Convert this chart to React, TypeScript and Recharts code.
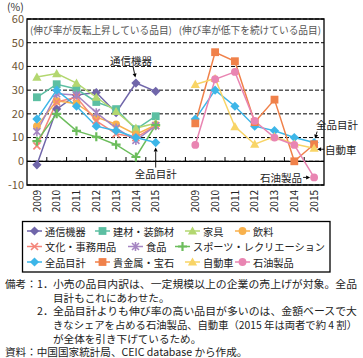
import React from 'react';
import {
  LineChart, Line, XAxis, YAxis, CartesianGrid,
  ReferenceArea, ReferenceLine, ReferenceDot,
} from 'recharts';

// ---------- data ----------
const years = ['2009', '2010', '2011', '2012', '2013', '2014', '2015'];

// left panel (伸び率が反転上昇している品目)
const tsuushinKiki = [-1.5, 22, 28, 29, 20.5, 33, 29.5];
const kenzai = [27, 32.5, 30.5, 25, 22, 13.5, 19];
const kagu = [35.5, 37, 33, 27, 21, 14, 16];
const inryou = [14.8, 25.5, 24.3, 18.6, 15.6, 11.3, 15.3];
const bunka = [6.5, 25, 27, 17, 11.6, 10, 15];
const shokuhin = [12.5, 28.5, 28, 20.5, 14, 8.8, 15];
const sports = [8.5, 20, 12.8, 10.3, 7, 1.8, 15.3];
// both panels
const zenhinmoku = [17.8, 30, 23.2, 14.8, 12.9, 10, 7.9];
// right panel (伸び率が低下を続けている品目)
const kikinzoku = [16, 46, 42.2, 16.5, 26, 0, 7.2];
const jidousha = [32.4, 34.9, 14.6, 7.2, 10.4, 7.3, 5.5];
const sekiyu = [6.9, 34.6, 37.7, 17, 10, 6.9, -6.8];

const yTicks = [-10, 0, 10, 20, 30, 40, 50, 60];

type Shape = 'diamond' | 'square' | 'triangle' | 'circle' | 'x' | 'star' | 'plus';
type Series = { key: string; name: string; color: string; shape: Shape; values: number[]; panel: 'L' | 'R' | 'B' };

const series: Series[] = [
  { key: 's1', name: '通信機器', color: '#7066AA', shape: 'diamond', values: tsuushinKiki, panel: 'L' },
  { key: 's2', name: '建材・装飾材', color: '#5CBFA2', shape: 'square', values: kenzai, panel: 'L' },
  { key: 's3', name: '家具', color: '#B3D770', shape: 'triangle', values: kagu, panel: 'L' },
  { key: 's4', name: '飲料', color: '#F8B14C', shape: 'circle', values: inryou, panel: 'L' },
  { key: 's5', name: '文化・事務用品', color: '#F4867A', shape: 'x', values: bunka, panel: 'L' },
  { key: 's6', name: '食品', color: '#A585C2', shape: 'star', values: shokuhin, panel: 'L' },
  { key: 's7', name: 'スポーツ・レクリエーション', color: '#6CBD5C', shape: 'plus', values: sports, panel: 'L' },
  { key: 's8', name: '全品目計', color: '#3DB6E8', shape: 'diamond', values: zenhinmoku, panel: 'B' },
  { key: 's9', name: '貴金属・宝石', color: '#F0814A', shape: 'square', values: kikinzoku, panel: 'R' },
  { key: 's10', name: '自動車', color: '#F8D466', shape: 'triangle', values: jidousha, panel: 'R' },
  { key: 's11', name: '石油製品', color: '#E985B2', shape: 'circle', values: sekiyu, panel: 'R' },
];

const data = Array.from({ length: 15 }, (_, i) => {
  const row: Record<string, number | null> = { idx: i };
  const li = i < 7 ? i : null;
  const ri = i >= 8 ? i - 8 : null;
  series.forEach((s) => {
    let v: number | null = null;
    if ((s.panel === 'L' || s.panel === 'B') && li !== null) v = s.values[li];
    if ((s.panel === 'R' || s.panel === 'B') && ri !== null) v = s.values[ri];
    row[s.key] = v;
  });
  return row;
});

const xTicks = [0, 1, 2, 3, 4, 5, 6, 8, 9, 10, 11, 12, 13, 14];
const boundaries = Array.from({ length: 14 }, (_, i) => i + 0.5);

const FONT = '"Noto Sans CJK JP", "Noto Sans", sans-serif';

// ---------- marker ----------
function Marker({ shape, color, cx, cy }: { shape: Shape; color: string; cx: number; cy: number }) {
  switch (shape) {
    case 'diamond':
      return <polygon points={`${cx},${cy - 4.6} ${cx + 4.6},${cy} ${cx},${cy + 4.6} ${cx - 4.6},${cy}`} fill={color} />;
    case 'square':
      return <rect x={cx - 3.9} y={cy - 3.9} width={7.8} height={7.8} fill={color} />;
    case 'triangle':
      return <polygon points={`${cx},${cy - 4.6} ${cx + 4.6},${cy + 3.6} ${cx - 4.6},${cy + 3.6}`} fill={color} />;
    case 'circle':
      return <circle cx={cx} cy={cy} r={3.9} fill={color} />;
    case 'x':
      return (
        <path d={`M${cx - 3.5},${cy - 3.5}L${cx + 3.5},${cy + 3.5}M${cx - 3.5},${cy + 3.5}L${cx + 3.5},${cy - 3.5}`}
          stroke={color} strokeWidth={1.7} />
      );
    case 'star':
      return (
        <path d={`M${cx - 3.5},${cy - 3.5}L${cx + 3.5},${cy + 3.5}M${cx - 3.5},${cy + 3.5}L${cx + 3.5},${cy - 3.5}M${cx},${cy - 4.5}L${cx},${cy + 4.5}`}
          stroke={color} strokeWidth={1.6} />
      );
    case 'plus':
      return (
        <path d={`M${cx - 4.5},${cy}L${cx + 4.5},${cy}M${cx},${cy - 4.5}L${cx},${cy + 4.5}`}
          stroke={color} strokeWidth={2.2} />
      );
  }
  return null;
}

const makeDot = (s: Series) => (p: any) => {
  const k = `dot-${s.key}-${p.index}`;
  if (p.value == null || p.cy == null || p.cx == null || isNaN(p.cy)) return <g key={k} />;
  return (
    <g key={k}>
      <Marker shape={s.shape} color={s.color} cx={p.cx} cy={p.cy} />
    </g>
  );
};

// ---------- annotation helpers ----------
function Arrow({ x1, y1, x2, y2 }: { x1: number; y1: number; x2: number; y2: number }) {
  const ang = Math.atan2(y2 - y1, x2 - x1);
  const L = 4, W = 2;
  const bx = x2 - L * Math.cos(ang), by = y2 - L * Math.sin(ang);
  const px = -Math.sin(ang) * W, py = Math.cos(ang) * W;
  return (
    <g>
      <line x1={x1} y1={y1} x2={bx} y2={by} stroke="#000" strokeWidth={0.9} />
      <polygon points={`${x2},${y2} ${bx + px},${by + py} ${bx - px},${by - py}`} fill="#000" />
    </g>
  );
}

const annText = (x: number, y: number, t: string, anchor: 'start' | 'middle' | 'end') => (
  <text x={x} y={y} textAnchor={anchor} dominantBaseline="central" fontSize={10.5} fill="#222" fontFamily={FONT}>{t}</text>
);

const XTick = (props: any) => {
  const { x, y, payload } = props;
  const i = payload.value as number;
  const label = i < 7 ? years[i] : years[i - 8];
  const tx = x + 3.6, ty = y + 5;
  return (
    <text x={tx} y={ty} transform={`rotate(-90 ${tx} ${ty})`} textAnchor="end" fontSize={10}
      fill="#222" fontFamily={FONT}>{label}</text>
  );
};

// ---------- legend ----------
const legendRows: { name: string; x: number }[][] = [
  [{ name: '通信機器', x: 27 }, { name: '建材・装飾材', x: 95 }, { name: '家具', x: 185 }, { name: '飲料', x: 235 }],
  [{ name: '文化・事務用品', x: 27 }, { name: '食品', x: 128 }, { name: 'スポーツ・レクリエーション', x: 175 }],
  [{ name: '全品目計', x: 27 }, { name: '貴金属・宝石', x: 95 }, { name: '自動車', x: 185 }, { name: '石油製品', x: 235 }],
];
const legendRowY = [231, 246.5, 262];

const noteLines: { x: number; y: number; t: string; w?: number; fs?: number }[] = [
  { x: 5, y: 283.5, t: '備考：' },
  { x: 37, y: 283.5, t: '1．' },
  { x: 53, y: 283.5, t: '小売の品目内訳は、一定規模以上の企業の売上げが対象。全品', w: 304 },
  { x: 53, y: 297, t: '目計もこれにあわせた。' },
  { x: 37, y: 310.8, t: '2．' },
  { x: 53, y: 310.8, t: '全品目計よりも伸び率の高い品目が多いのは、金額ベースで大', w: 304 },
  { x: 53, y: 324.5, t: 'きなシェアを占める石油製品、自動車（2015 年は両者で約 4 割）', w: 304, fs: 10.1 },
  { x: 53, y: 338, t: 'が全体を引き下げているため。' },
  { x: 5, y: 351.5, t: '資料：中国国家統計局、CEIC database から作成。' },
];

export default function App() {
  return (
    <div style={{ position: 'absolute', left: 0, top: 0, width: 363, height: 358, background: '#fff', fontFamily: FONT }}>
      <LineChart width={363} height={220} data={data} margin={{ top: 19, right: 39, bottom: 5, left: 0 }}>
        <CartesianGrid horizontal vertical={false} stroke="#000" strokeDasharray="4 2" strokeWidth={1} />
        <XAxis dataKey="idx" type="number" domain={[-0.5, 14.5]} ticks={xTicks} interval={0}
          axisLine={false} tickLine={false} tickSize={0} tickMargin={0} height={30} tick={<XTick />} />
        <YAxis type="number" domain={[-10, 60]} ticks={yTicks} interval={0} width={27}
          axisLine={false} tickLine={false} tickSize={0} tickMargin={3}
          tick={{ fontSize: 11, fill: '#6E5434', fontFamily: FONT }} />
        <ReferenceLine y={0} stroke="#000" strokeWidth={1.3} />
        {boundaries.map((b) => (
          <ReferenceLine key={`b${b}`} segment={[{ x: b, y: 0 }, { x: b, y: 1.8 }]} stroke="#000" strokeWidth={1} />
        ))}
        <ReferenceArea x1={-0.5} x2={14.5} y1={-10} y2={60} fill="none" fillOpacity={0} stroke="#000" strokeWidth={1.3} />
        {series.map((s) => (
          <Line key={s.key} type="linear" dataKey={s.key} name={s.name} stroke={s.color} strokeWidth={1.5}
            dot={makeDot(s)} activeDot={false} connectNulls={false} isAnimationActive={false} />
        ))}
        <ReferenceDot x={5} y={tsuushinKiki[5]} r={0} shape={(p: any) => (
          <g>
            {annText(p.cx - 5, p.cy - 23, '通信機器', 'middle')}
            <Arrow x1={p.cx - 3} y1={p.cy - 17} x2={p.cx - 0.5} y2={p.cy - 5.5} />
          </g>
        )} />
        <ReferenceDot x={6} y={zenhinmoku[6]} r={0} shape={(p: any) => (
          <g>
            {annText(p.cx, p.cy + 31, '全品目計', 'middle')}
            <Arrow x1={p.cx} y1={p.cy + 25} x2={p.cx} y2={p.cy + 5} />
          </g>
        )} />
        <ReferenceDot x={14} y={zenhinmoku[6]} r={0} shape={(p: any) => (
          <g>
            {annText(p.cx + 2, p.cy - 18, '全品目計', 'start')}
            <Arrow x1={p.cx + 3} y1={p.cy - 11} x2={p.cx + 1} y2={p.cy - 4} />
          </g>
        )} />
        <ReferenceDot x={14} y={jidousha[6]} r={0} shape={(p: any) => (
          <g>
            {annText(p.cx + 11, p.cy + 1.5, '自動車', 'start')}
            <Arrow x1={p.cx + 10} y1={p.cy + 1} x2={p.cx + 3} y2={p.cy + 1} />
          </g>
        )} />
        <ReferenceDot x={14} y={sekiyu[6]} r={0} shape={(p: any) => (
          <g>
            {annText(p.cx - 12, p.cy, '石油製品', 'end')}
            <Arrow x1={p.cx - 11} y1={p.cy} x2={p.cx - 4} y2={p.cy} />
          </g>
        )} />
      </LineChart>

      <svg width={363} height={358} style={{ position: 'absolute', left: 0, top: 0, pointerEvents: 'none' }}>
        <text x={7} y={6.5} dominantBaseline="central" fontSize={10.5} fill="#333" fontFamily={FONT}>(%)</text>
        <text x={30} y={30} dominantBaseline="central" fontSize={9.7} fill="#555" fontFamily={FONT}>(伸び率が反転上昇している品目)</text>
        <text x={321} y={30} textAnchor="end" dominantBaseline="central" fontSize={9.7} fill="#555" fontFamily={FONT}>(伸び率が低下を続けている品目)</text>

        <rect x={22.5} y={221.5} width={307.5} height={50.5} fill="none" stroke="#000" strokeWidth={1.3} />
        {legendRows.map((row, ri) =>
          row.map((it) => {
            const s = series.find((q) => q.name === it.name)!;
            const y = legendRowY[ri];
            return (
              <g key={it.name}>
                <line x1={it.x} y1={y} x2={it.x + 15} y2={y} stroke={s.color} strokeWidth={1.5} />
                <Marker shape={s.shape} color={s.color} cx={it.x + 7.5} cy={y} />
                <text x={it.x + 18} y={y} dominantBaseline="central" fontSize={10.2} fill="#222" fontFamily={FONT}>{it.name}</text>
              </g>
            );
          })
        )}

        {noteLines.map((l, i) => (
          <text key={i} x={l.x} y={l.y} dominantBaseline="central" fontSize={l.fs ?? 10.6} fill="#222" fontFamily={FONT}
            {...(l.w ? { textLength: l.w, lengthAdjust: 'spacingAndGlyphs' } : {})}>{l.t}</text>
        ))}
      </svg>
    </div>
  );
}
